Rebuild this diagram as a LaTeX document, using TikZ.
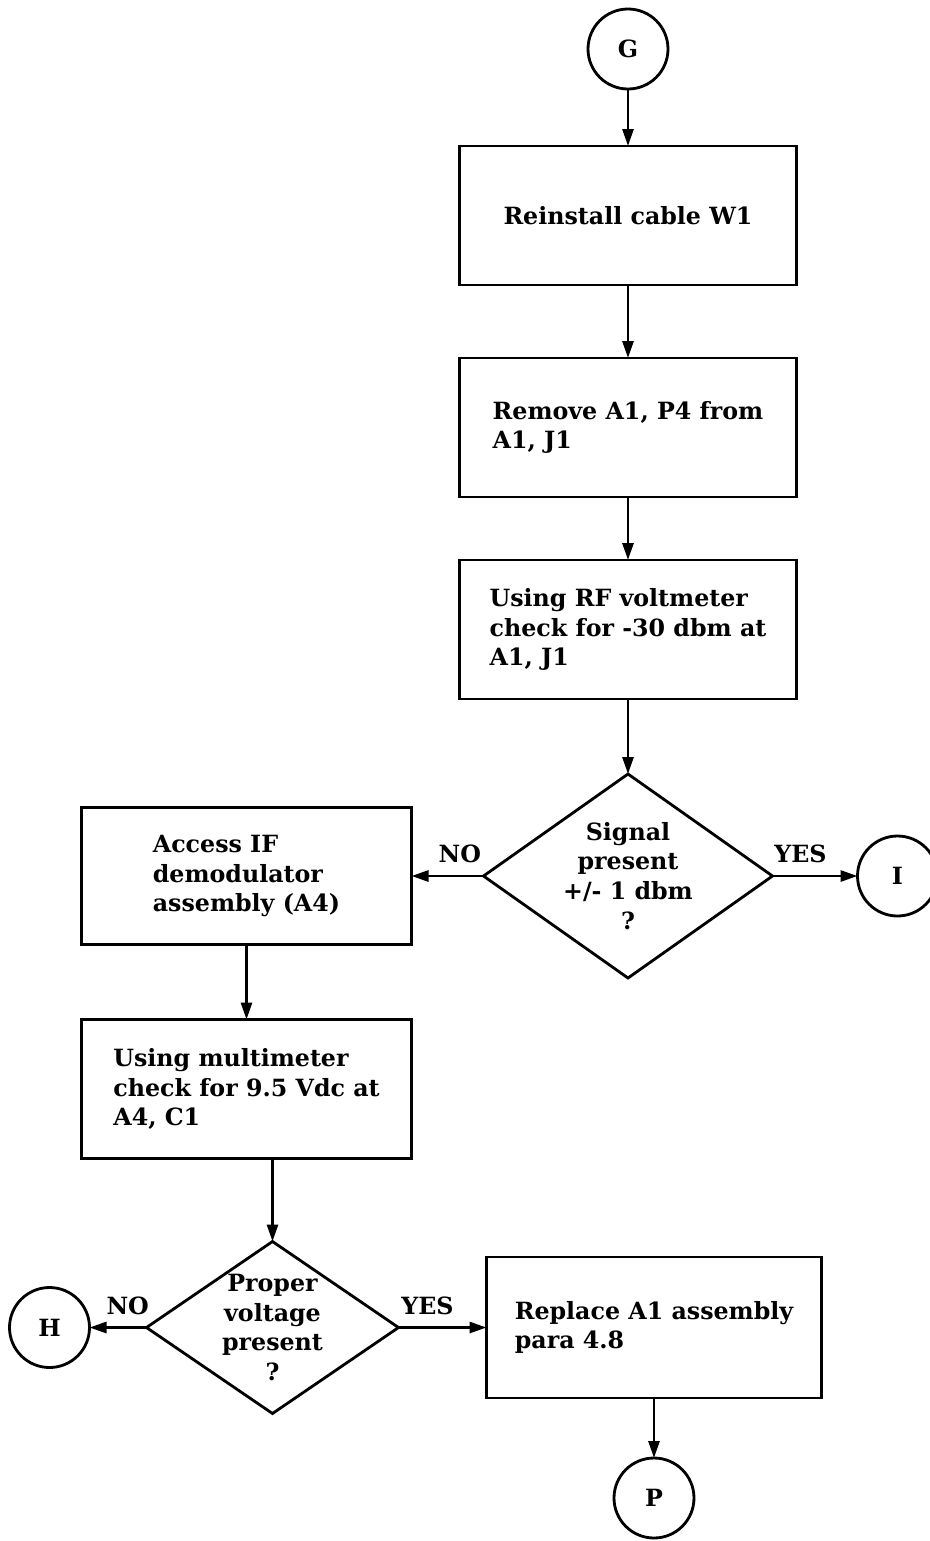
\documentclass[tikz,border=0pt]{standalone}
\usepackage{fontspec}
\setmainfont{DejaVu Serif}
\usetikzlibrary{arrows.meta,positioning,shapes.geometric}

\begin{document}
\begin{tikzpicture}[font=\fontsize{13.5pt}{17pt}\selectfont\bfseries, node distance=1.5cm and 1.5cm, outer sep=0pt,
box/.style={draw,line width=1.6pt,minimum height=2.78cm,minimum width=6.74cm,align=left},
decision/.style={draw,diamond,line width=1.6pt,inner sep=-2pt,align=center},
conn/.style={draw,circle,line width=1.6pt,minimum size=1.6cm,inner sep=0pt},
arr/.style={-{Triangle[length=3.4mm,width=2.2mm]},line width=1.6pt}]
\useasboundingbox (0,0) rectangle (18.58,-30.82);
\node[conn] (G) at (12.56,-0.98) {G};
\node[box,below=1.14cm of G,align=center] (reinstall) {Reinstall cable W1};
\node[box,below=1.46cm of reinstall] (remove) {Remove A1, P4 from\\A1, J1};
\node[box,below=1.26cm of remove] (rfcheck) {Using RF voltmeter\\check for -30 dbm at\\A1, J1};
\node[decision,below=1.5cm of rfcheck,aspect=1.42,minimum width=5.78cm,minimum height=4.08cm] (signal) {Signal\\present\\+/- 1 dbm\\?};
\node[conn,right=1.7cm of signal] (I) {I};
\node[box,left=1.44cm of signal,minimum width=6.6cm,minimum height=2.74cm] (access) {Access IF\\demodulator\\assembly (A4)};
\node[box,below=1.5cm of access,minimum width=6.6cm] (dccheck) {Using multimeter\\check for 9.5 Vdc at\\A4, C1};
\node[decision,below=1.66cm of dccheck,xshift=0.52cm,aspect=1.47,minimum width=5.04cm,minimum height=3.44cm] (voltage) {Proper\\voltage\\present\\?};
\node[conn,left=1.14cm of voltage] (H) {H};
\node[box,right=1.76cm of voltage,minimum width=6.7cm,minimum height=2.82cm] (replace) {Replace A1 assembly\\para 4.8};
\node[conn,below=1.2cm of replace] (P) {P};
\draw[arr] (G)--(reinstall); \draw[arr] (reinstall)--(remove); \draw[arr] (remove)--(rfcheck); \draw[arr] (rfcheck)--(signal);
\draw[arr] (signal.west)--node[above=4pt,pos=0.33]{NO}(access.east); \draw[arr] (signal.east)--node[above=4pt,pos=0.33]{YES}(I.west);
\draw[arr] (access)--(dccheck); \draw[arr] (dccheck.south -| voltage.north)--(voltage.north);
\draw[arr] (voltage.west)--node[above=4pt,pos=0.33]{NO}(H.east); \draw[arr] (voltage.east)--node[above=4pt,pos=0.33]{YES}(replace.west);
\draw[arr] (replace)--(P);
\end{tikzpicture}
\end{document}
